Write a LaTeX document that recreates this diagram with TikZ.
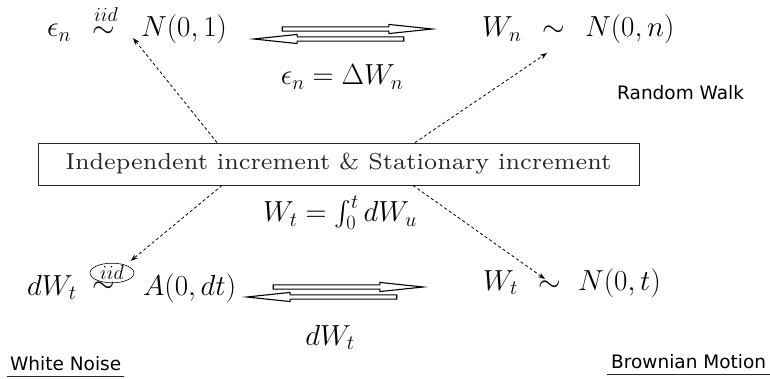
\RequirePackage{fix-cm}
\documentclass[tikz,border=0pt]{standalone}
\usepackage{amsmath}
\usepackage[no-math]{fontspec}
\newfontfamily\labelsans{DejaVu Sans}
\usetikzlibrary{arrows.meta,shapes.arrows,shapes.geometric,calc}
\begin{document}
\begin{tikzpicture}[x=1pt,y=-1pt,
  mth/.style={inner sep=0pt, font=\fontsize{29}{31}\selectfont, anchor=base west},
  mthc/.style={inner sep=0pt, font=\fontsize{29}{31}\selectfont, anchor=base},
  lbl/.style={inner ysep=6pt, inner xsep=3pt, font=\labelsans\fontsize{18.5}{20}\selectfont, anchor=base west},
  ul/.style={line width=1.3pt, black!85},
  dasharrow/.style={line width=0.8pt, dash pattern=on 3pt off 2.5pt, -{Stealth[length=7pt,width=5pt]}},
  dblarrow/.style={single arrow, draw, line width=1.1pt, inner sep=1.6pt, minimum width=9pt,
     single arrow head extend=2.4pt, single arrow tip angle=12, minimum height=150pt},
  framebox/.style={draw, line width=0.9pt, black!85, minimum width=601pt, minimum height=42pt, inner sep=0pt}
]
\useasboundingbox (0,0) rectangle (770,379);

% top left
\node[mth] (eps) at (47,37) {$\epsilon_n$};
\node[mth] (sim1) at (92,38) {$\sim$};
\node[inner sep=0pt, anchor=base, font=\fontsize{20}{21}\selectfont] (iid1) at (106,22) {$iid$};
\node[mth] (N01) at (141,37) {$N(0,1)$};

% top right
\node[mth] (Wn) at (482,37) {$W_n$};
\node[mth] (sim3) at (542,37) {$\sim$};
\node[mth] (N0n) at (585,37) {$N(0,n)$};

% top double arrow
\node[dblarrow] (ar1) at (347,29) {};
\node[dblarrow, shape border rotate=180] (ar2) at (339,39) {};
\node[mthc] (delta) at (342,85) {$\epsilon_n = \Delta W_n$};

\node[lbl] (rw) at (614,100) {Random Walk};

% box
\node[framebox] (box) at (338.5,164) {\scalebox{3.3}{\fontsize{7}{8}\selectfont Independent increment \& Stationary increment}};

% bottom left
\node[mth] (dWt) at (27,295) {$dW_t$};
\node[mth] (sim2) at (92,292) {$\sim$};
\node[draw, ellipse, line width=0.6pt, inner sep=0pt, minimum width=44pt, minimum height=19pt,
      font=\fontsize{20}{21}\selectfont] (iid2) at (112,273) {$iid$};
\node[mth] (A0dt) at (143,295) {$A(0,dt)$};

% bottom double arrow
\node[mthc] (integ) at (340,222) {$W_t = \int_0^t dW_u$};
\node[dblarrow] (ar3) at (338,287) {};
\node[dblarrow, shape border rotate=180] (ar4) at (332,297) {};
\node[mthc] (dWt2) at (330,345) {$dW_t$};

% bottom right
\node[mth] (Wt) at (483,290) {$W_t$};
\node[mth] (sim4) at (538,291) {$\sim$};
\node[mth] (N0t) at (578,290) {$N(0,t)$};

% labels with underline
\node[lbl] (wn) at (7,370) {White Noise};
\draw[ul] (wn.south west) -- (wn.south east);
\node[lbl, inner xsep=4pt] (bm) at (607,368) {Brownian Motion};
\draw[ul] (bm.south west) -- (bm.south east);

% dashed arrows
\draw[dasharrow] ([xshift=-121.5pt]box.north) -- ($(N01.base west)+(-8,1)$);
\draw[dasharrow] ([xshift=76.5pt]box.north) -- ($(sim3.base west)+(5,16)$);
\draw[dasharrow] ([xshift=-116.5pt]box.south) -- ($(iid2.north east)+(3,-5)$);
\draw[dasharrow] ([xshift=74.5pt]box.south) -- ($(sim4.base west)+(7,-12)$);
\end{tikzpicture}
\end{document}
